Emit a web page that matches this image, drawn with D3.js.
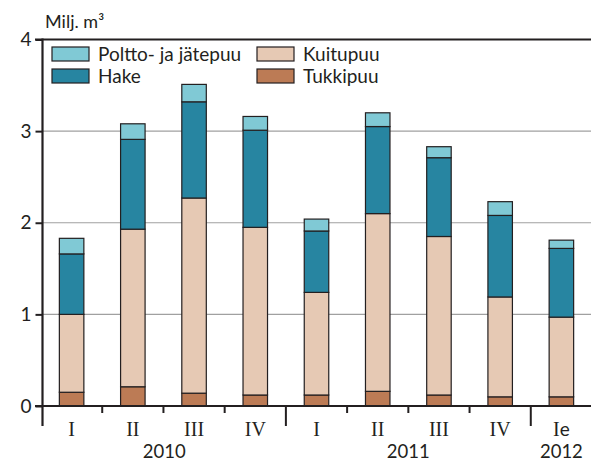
<!DOCTYPE html>
<html><head><meta charset="utf-8">
<script src="https://cdn.jsdelivr.net/npm/d3@7"></script>
<style>
html,body{margin:0;padding:0;background:#fff;}
svg{display:block;}
text{font-family:Lato,"Open Sans",sans-serif;fill:#231f20;}
</style></head>
<body>
<svg id="chart" width="591" height="461"></svg>
<script>
const quarters = ["I","II","III","IV","I","II","III","IV","Ie"];
const years = [{label:"2010", from:0, to:4}, {label:"2011", from:4, to:8}, {label:"2012", from:8, to:9}];
const seriesNames = ["Tukkipuu","Kuitupuu","Hake","Poltto- ja jätepuu"];
const tukkipuu = [0.15, 0.21, 0.14, 0.12, 0.12, 0.16, 0.12, 0.10, 0.10];
const kuitupuu = [0.85, 1.72, 2.13, 1.83, 1.12, 1.94, 1.73, 1.09, 0.87];
const hake     = [0.66, 0.98, 1.05, 1.06, 0.67, 0.95, 0.86, 0.89, 0.75];
const poltto   = [0.17, 0.17, 0.19, 0.15, 0.13, 0.15, 0.12, 0.15, 0.09];
const yTicks = [0,1,2,3,4];
const colors = {"Tukkipuu":"#bc7b55","Kuitupuu":"#e6c9b4","Hake":"#2785a1","Poltto- ja jätepuu":"#80c9d5"};

const data = quarters.map((q,i)=>({i, q, "Tukkipuu":tukkipuu[i], "Kuitupuu":kuitupuu[i], "Hake":hake[i], "Poltto- ja jätepuu":poltto[i]}));
const stack = d3.stack().keys(seriesNames)(data);

const svg = d3.select("#chart");
const x0 = 42.5, xR = 592;
const x = d3.scaleBand().domain(d3.range(quarters.length)).range([41, xR]).paddingInner(0.6).paddingOuter(0.3);
const y = d3.scaleLinear().domain([0,4]).range([406, 39.5]);

// gridlines
svg.append("g").selectAll("line").data([1,2,3]).join("line")
  .attr("x1", x0).attr("x2", 591).attr("y1", d=>y(d)).attr("y2", d=>y(d))
  .attr("stroke", "#a0a0a0").attr("stroke-width", 1.2);

// top line
svg.append("line").attr("x1", 35).attr("x2", 591).attr("y1", y(4)).attr("y2", y(4))
  .attr("stroke", "#231f20").attr("stroke-width", 2);

// bars
const bw = 24.5;
svg.append("g").selectAll("g").data(stack).join("g")
  .attr("fill", d=>colors[d.key])
  .selectAll("rect").data(d=>d).join("rect")
  .attr("x", (d,i)=> x(i) + x.bandwidth()/2 - bw/2)
  .attr("width", bw)
  .attr("y", d=>y(d[1]))
  .attr("height", d=>y(d[0]) - y(d[1]))
  .attr("stroke", "#231f20").attr("stroke-width", 1.2);

// y axis
const yAxis = d3.axisLeft(y).tickValues(yTicks).tickSize(7).tickPadding(4).tickFormat(d3.format("d"));
const gy = svg.append("g").attr("transform", `translate(${x0},0)`).call(yAxis);
gy.select(".domain").remove();
gy.selectAll(".tick line").attr("stroke", "#231f20").attr("stroke-width", 2);
gy.selectAll(".tick text").attr("font-size", 19).attr("font-family", "Lato").attr("fill", "#231f20");
svg.append("line").attr("x1", x0).attr("x2", x0).attr("y1", y(4) - 1).attr("y2", 426)
  .attr("stroke", "#231f20").attr("stroke-width", 2.2);

// x axis baseline
svg.append("line").attr("x1", 35).attr("x2", 591).attr("y1", y(0)).attr("y2", y(0))
  .attr("stroke", "#231f20").attr("stroke-width", 2);

// x ticks between bands
const step = x.step();
const bigSet = new Set(years.slice(1).map(yy=>yy.from));
svg.append("g").selectAll("line").data(d3.range(1, quarters.length)).join("line")
  .attr("x1", i=>x(i) - (step - x.bandwidth())/2).attr("x2", i=>x(i) - (step - x.bandwidth())/2)
  .attr("y1", y(0)).attr("y2", i=> bigSet.has(i) ? 426 : 413)
  .attr("stroke", "#231f20").attr("stroke-width", 2);

// quarter labels
const ql = svg.append("g").selectAll("text").data(quarters).join("text")
  .attr("x", (d,i)=>x(i)+x.bandwidth()/2).attr("y", 436)
  .attr("text-anchor", "middle").attr("font-size", 20);
ql.each(function(d){
  const t = d3.select(this);
  t.append("tspan").attr("font-family", "'Liberation Serif',serif").text(d.replace("e",""));
  if (d.includes("e")) t.append("tspan").attr("font-family","Lato").attr("font-size", 19).text("e");
});

// year labels
svg.append("g").selectAll("text").data(years).join("text")
  .attr("x", d=>{
    const a = d.from===0 ? x0 : x(d.from) - (step - x.bandwidth())/2;
    const b = d.to===quarters.length ? null : x(d.to) - (step - x.bandwidth())/2;
    return b===null ? x(d.from)+x.bandwidth()/2 : (a+b)/2;
  })
  .attr("y", 458).attr("text-anchor","middle").attr("font-size", 18.5).text(d=>d.label);

// unit label
svg.append("text").attr("x", 45).attr("y", 28).attr("font-size", 18).text("Milj. m³");

// legend
const legendItems = [
  {name:"Poltto- ja jätepuu", col:0, row:0},
  {name:"Hake", col:0, row:1},
  {name:"Kuitupuu", col:1, row:0},
  {name:"Tukkipuu", col:1, row:1}
];
const lg = svg.append("g").selectAll("g").data(legendItems).join("g")
  .attr("transform", d=>`translate(${52 + d.col*205},${47 + d.row*22})`);
lg.append("rect").attr("width", 37).attr("height", 14)
  .attr("fill", d=>colors[d.name]).attr("stroke", "#231f20").attr("stroke-width", 1.2);
lg.append("text").attr("x", 46).attr("y", 14).attr("font-size", 19).text(d=>d.name);
</script>
</body></html>
